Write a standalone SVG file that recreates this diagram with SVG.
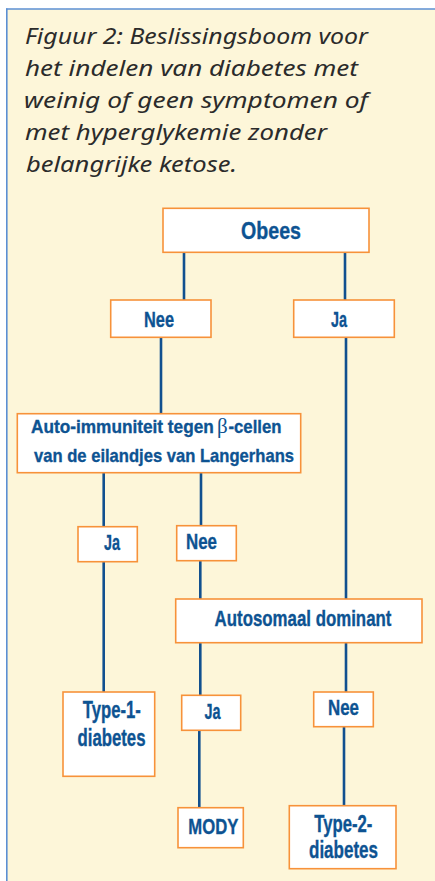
<svg xmlns="http://www.w3.org/2000/svg" width="435" height="881" viewBox="0 0 435 881">
<style>
.title{font-family:"Noto Sans","Open Sans",sans-serif;font-style:italic;font-size:22.5px;fill:#2b2b2b}
.box{fill:#ffffff;stroke:#f7923a;stroke-width:1.6}
.lbl{font-family:"Liberation Sans","Arial",sans-serif;font-weight:bold;fill:#0d5392;stroke:#0d5392;stroke-width:0.35;text-anchor:middle}
.st{text-anchor:start}
.beta{font-family:"Liberation Serif","Times New Roman",serif;font-weight:normal;fill:#0d5392;font-size:21px}
.conn line{stroke:#11508f;stroke-width:2.6}
</style>
<rect x="0" y="0" width="435" height="881" fill="#ffffff"/>
<rect x="7" y="9" width="428" height="872" fill="#fdf6d9"/>
<line x1="6.8" y1="8.5" x2="6.8" y2="881" stroke="#5b8fd3" stroke-width="1.6"/>
<line x1="6" y1="9" x2="435" y2="9" stroke="#5b8fd3" stroke-width="1.6"/>
<g id="title">
<text class="title" x="25" y="43.5" textLength="343" lengthAdjust="spacingAndGlyphs">Figuur 2: Beslissingsboom voor</text>
<text class="title" x="25" y="75.8" textLength="333" lengthAdjust="spacingAndGlyphs">het indelen van diabetes met</text>
<text class="title" x="24" y="108" textLength="344" lengthAdjust="spacingAndGlyphs">weinig of geen symptomen of</text>
<text class="title" x="25" y="140.2" textLength="302" lengthAdjust="spacingAndGlyphs">met hyperglykemie zonder</text>
<text class="title" x="26" y="172.4" textLength="211" lengthAdjust="spacingAndGlyphs">belangrijke ketose.</text>
</g>
<g id="connectors" class="conn">
<line x1="184" y1="252" x2="184" y2="300"/>
<line x1="345" y1="252" x2="345" y2="300"/>
<line x1="161" y1="337" x2="161" y2="414"/>
<line x1="346" y1="337" x2="346" y2="599"/>
<line x1="103.7" y1="473" x2="103.7" y2="527"/>
<line x1="103.7" y1="562" x2="103.7" y2="692"/>
<line x1="201" y1="473" x2="201" y2="526"/>
<line x1="200.3" y1="561" x2="200.3" y2="599"/>
<line x1="200.3" y1="643" x2="200.3" y2="695"/>
<line x1="346" y1="643" x2="346" y2="692"/>
<line x1="199.3" y1="730" x2="199.3" y2="808"/>
<line x1="344" y1="727" x2="344" y2="806"/>
</g>
<g id="obees">
<rect class="box" x="163" y="208.3" width="206" height="44"/>
<text class="lbl" x="271" y="239" font-size="24.5" textLength="60" lengthAdjust="spacingAndGlyphs">Obees</text>
</g>
<g id="nee1">
<rect class="box" x="110.7" y="300" width="100.3" height="37.3"/>
<text class="lbl" x="159" y="326.7" font-size="21.5" textLength="30" lengthAdjust="spacingAndGlyphs">Nee</text>
</g>
<g id="ja1">
<rect class="box" x="293.7" y="300" width="100.6" height="37.3"/>
<text class="lbl" x="339" y="326.7" font-size="21.5" textLength="16" lengthAdjust="spacingAndGlyphs">Ja</text>
</g>
<g id="auto">
<rect class="box" x="17.3" y="413.7" width="283.4" height="59"/>
<text class="lbl st" transform="translate(31 433.3) scale(0.908 1)" x="0" y="0" font-size="19">Auto-immuniteit tegen</text>
<text class="beta" x="217" y="433.3">β</text>
<text class="lbl st" transform="translate(228.5 433.3) scale(0.88 1)" x="0" y="0" font-size="19">-cellen</text>
<text class="lbl" x="164" y="461.7" font-size="19" textLength="260" lengthAdjust="spacingAndGlyphs">van de eilandjes van Langerhans</text>
</g>
<g id="ja2">
<rect class="box" x="78" y="526.7" width="59.3" height="35"/>
<text class="lbl" x="112" y="550" font-size="21.5" textLength="16" lengthAdjust="spacingAndGlyphs">Ja</text>
</g>
<g id="nee2">
<rect class="box" x="176.7" y="525.7" width="59.6" height="35"/>
<text class="lbl" x="201.5" y="549.3" font-size="21.5" textLength="31" lengthAdjust="spacingAndGlyphs">Nee</text>
</g>
<g id="autosomaal">
<rect class="box" x="175.7" y="599" width="246.3" height="43.7"/>
<text class="lbl" transform="translate(303 625.7) scale(0.784 1)" x="0" y="0" font-size="21.5">Autosomaal dominant</text>
</g>
<g id="type1">
<rect class="box" x="63" y="692" width="91.7" height="84.3"/>
<text class="lbl" x="111.8" y="718.3" font-size="23" textLength="58" lengthAdjust="spacingAndGlyphs">Type-1-</text>
<text class="lbl" x="111.5" y="746" font-size="23" textLength="68" lengthAdjust="spacingAndGlyphs">diabetes</text>
</g>
<g id="ja3">
<rect class="box" x="181.7" y="695.3" width="59" height="35"/>
<text class="lbl" x="212.5" y="719" font-size="21.5" textLength="16" lengthAdjust="spacingAndGlyphs">Ja</text>
</g>
<g id="nee3">
<rect class="box" x="313.7" y="692" width="59.6" height="34.7"/>
<text class="lbl" x="343.5" y="715" font-size="21.5" textLength="31" lengthAdjust="spacingAndGlyphs">Nee</text>
</g>
<g id="mody">
<rect class="box" x="178" y="807.7" width="65.3" height="40"/>
<text class="lbl" x="213.3" y="833.7" font-size="22.5" textLength="50" lengthAdjust="spacingAndGlyphs">MODY</text>
</g>
<g id="type2">
<rect class="box" x="289.3" y="805.7" width="106.7" height="63"/>
<text class="lbl" x="343.3" y="831.7" font-size="23" textLength="58" lengthAdjust="spacingAndGlyphs">Type-2-</text>
<text class="lbl" x="343.5" y="858.3" font-size="23" textLength="69" lengthAdjust="spacingAndGlyphs">diabetes</text>
</g>
</svg>
